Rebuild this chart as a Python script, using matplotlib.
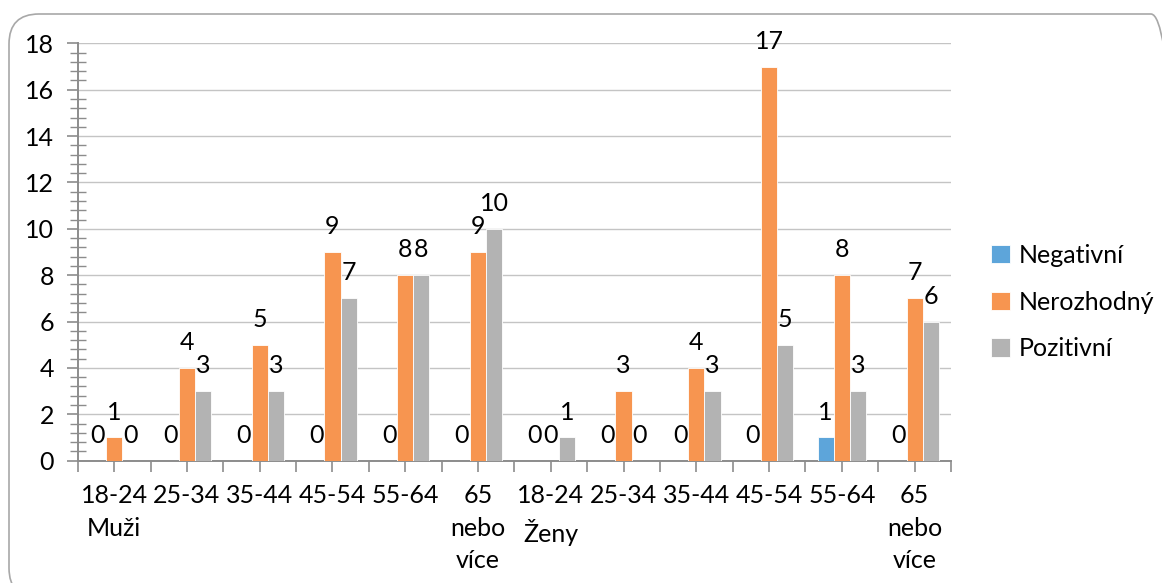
import matplotlib.pyplot as plt
import numpy as np
from matplotlib.patches import FancyBboxPatch
from matplotlib.ticker import MultipleLocator, FixedLocator

categories = ["18-24\nMuži", "25-34", "35-44", "45-54", "55-64", "65\nnebo\nvíce",
              "18-24\nŽeny", "25-34", "35-44", "45-54", "55-64", "65\nnebo\nvíce"]
negativni = [0, 0, 0, 0, 0, 0, 0, 0, 0, 0, 1, 0]
nerozhodny = [1, 4, 5, 9, 8, 9, 0, 3, 4, 17, 8, 7]
pozitivni = [0, 3, 3, 7, 8, 10, 1, 0, 3, 5, 3, 6]

series = [
    ("Negativní", negativni, "#5DA5DA"),
    ("Nerozhodný", nerozhodny, "#F79550"),
    ("Pozitivní", pozitivni, "#B3B3B3"),
]

plt.rcParams["font.family"] = ["Lato", "DejaVu Sans"]
FS = 18
GRAY = "#8C8C8C"

fig = plt.figure(figsize=(11.62, 5.83), dpi=100)
ax = fig.add_axes([0.0669, 0.2098, 0.7515, 0.7159])

# rounded chart-area frame (runs off the right and bottom edges)
frame = FancyBboxPatch((0.09, -0.15), 11.72, 5.84,
                       boxstyle="round,pad=0,rounding_size=0.3",
                       transform=fig.dpi_scale_trans, facecolor="none",
                       edgecolor="#A8A8A8", linewidth=1.2, zorder=0)
fig.patches.append(frame)

x = np.arange(len(categories))
w = 1 / 4.5
for k, (name, vals, color) in enumerate(series):
    pos = x + (k - 1) * w
    ax.bar(pos, vals, width=w, color=color, edgecolor="white",
           linewidth=0.6, label=name, zorder=3)
    for xb, v in zip(pos, vals):
        ax.annotate(str(v), (xb, v), xytext=(0, 10), textcoords="offset points",
                    ha="center", va="bottom", fontsize=FS, color="black", zorder=4)

ax.set_xlim(-0.5, len(categories) - 0.5)
ax.set_ylim(0, 18)
ax.yaxis.set_major_locator(MultipleLocator(2))
ax.yaxis.set_minor_locator(MultipleLocator(0.4))
ax.grid(axis="y", which="major", color="#C4C4C4", linewidth=1.0, zorder=0)
ax.set_axisbelow(True)

# category labels on the centre ticks, extra ticks on the category boundaries
ax.set_xticks(x, categories)
ax.xaxis.set_minor_locator(FixedLocator(np.arange(-0.5, len(categories), 1.0)))
ax.tick_params(axis="x", which="both", direction="out", length=8, width=1.2,
               color=GRAY)
ax.tick_params(axis="x", which="major", pad=9, labelsize=FS)
for lbl in ax.get_xticklabels():
    lbl.set_linespacing(1.5)

ax.tick_params(axis="y", which="major", direction="out", length=8, width=1.2,
               color=GRAY, pad=9, labelsize=FS)
ax.tick_params(axis="y", which="minor", direction="inout", length=11, width=1.0,
               color=GRAY)

for side in ("top", "right"):
    ax.spines[side].set_visible(False)
for side in ("left", "bottom"):
    ax.spines[side].set_color(GRAY)
    ax.spines[side].set_linewidth(1.4)

ax.legend(loc="center left", bbox_to_anchor=(1.02, 0.38), frameon=False,
          fontsize=FS, handlelength=0.75, handleheight=0.75,
          handletextpad=0.35, labelspacing=0.95)

fig.savefig("out.png", dpi=100)
